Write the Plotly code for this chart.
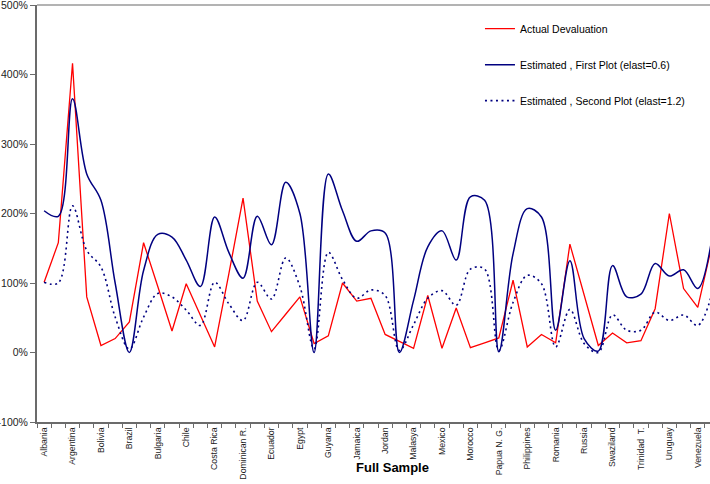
import plotly.graph_objects as go

# ---- data ----
tick_labels = ["Albania", "Argentina", "Bolivia", "Brazil", "Bulgaria", "Chile",
               "Costa Rica", "Dominican R.", "Ecuador", "Egypt", "Guyana", "Jamaica",
               "Jordan", "Malasya", "Mexico", "Morocco", "Papua N. G.", "Philippines",
               "Romania", "Russia", "Swaziland", "Trinidad  T.", "Uruguay", "Venezuela"]

actual = [101, 158, 416, 80, 10, 20, 44, 158, 95, 31, 99, 54, 8, 113, 222, 74,
          30, 55, 80, 13, 24, 100, 74, 78, 26, 16, 6, 82, 6, 64, 7, 14,
          21, 104, 8, 26, 14, 156, 83, 10, 28, 14, 17, 63, 200, 92, 65, 155]

first_plot = [204, 196, 365, 257, 219, 100, 0, 118, 170, 166, 133, 95, 195, 144, 107, 196,
              155, 245, 200, 0, 257, 204, 160, 175, 172, 0, 75, 152, 175, 133, 224, 219,
              1, 142, 207, 195, 32, 132, 20, 2, 125, 80, 84, 128, 110, 119, 92, 165]

second_plot = [101, 100, 211, 147, 123, 51, 5, 51, 85, 80, 61, 39, 101, 70, 46, 101,
               77, 136, 95, 5, 144, 105, 78, 90, 82, 3, 40, 78, 89, 68, 120, 120,
               3, 72, 111, 99, 8, 62, 13, 0, 54, 32, 32, 58, 46, 54, 39, 85]

y_ticks = [-100, 0, 100, 200, 300, 400, 500]

x = list(range(len(actual)))
label_pos = list(range(0, 2 * len(tick_labels), 2))

FONT = "Liberation Sans, Arial, sans-serif"
NAVY = "#000080"

fig = go.Figure()
fig.add_trace(go.Scatter(x=x, y=actual, mode="lines", name="Actual Devaluation",
                         line=dict(color="#FF0000", width=1.3), legendgroup="a"))
fig.add_trace(go.Scatter(x=x, y=first_plot, mode="lines",
                         name="Estimated , First Plot (elast=0.6)",
                         line=dict(color=NAVY, width=1.5, shape="spline", smoothing=1),
                         legendgroup="b"))
fig.add_trace(go.Scatter(x=x, y=second_plot, mode="lines",
                         name="Estimated , Second Plot (elast=1.2)",
                         line=dict(color=NAVY, width=1.6, shape="spline", smoothing=1,
                                   dash="2px,3.5px"),
                         legendgroup="c"))

fig.update_layout(
    width=710, height=484,
    margin=dict(l=37, r=0, t=5, b=62, autoexpand=False),
    paper_bgcolor="white", plot_bgcolor="white",
    font=dict(family=FONT, color="#000000"),
    showlegend=True,
    legend=dict(x=0.6582, y=0.978, xanchor="left", yanchor="top",
                bgcolor="rgba(0,0,0,0)", font=dict(size=10.5, family=FONT),
                tracegroupgap=17),
    xaxis=dict(range=[-0.5, 46.86], tickmode="array", tickvals=label_pos,
               ticktext=tick_labels, tickangle=-90, ticks="", automargin=False,
               tickfont=dict(size=8.7, family=FONT, color="#222222"),
               showgrid=False, zeroline=False, showline=True,
               linecolor="#6b6b6b", linewidth=2,
               minor=dict(tickmode="array",
                          tickvals=[i - 0.5 for i in range(len(actual) + 1)],
                          ticks="outside", ticklen=4, tickcolor="#6b6b6b",
                          tickwidth=1.2, showgrid=False)),
    yaxis=dict(range=[-100, 500], tickmode="array", tickvals=y_ticks,
               ticktext=[f"{v}%" for v in y_ticks], ticks="outside", ticklen=5,
               ticklabelstandoff=0, ticklabeloverflow="allow", automargin=False,
               tickcolor="#6b6b6b", tickfont=dict(size=10.5, family=FONT, color="#222222"),
               showgrid=False, zeroline=False, showline=True,
               linecolor="#6b6b6b", linewidth=2),
    shapes=[dict(type="line", xref="paper", yref="paper", x0=0, x1=1, y0=1, y1=1,
                 line=dict(color="#9a9a9a", width=1.5))],
    annotations=[dict(text="<b>Full Sample</b>", xref="paper", yref="paper",
                      x=0.5275, y=-0.110, xanchor="center", yanchor="middle",
                      showarrow=False, font=dict(size=13, family=FONT, color="#000000"))],
)

fig.write_html("out.html")
